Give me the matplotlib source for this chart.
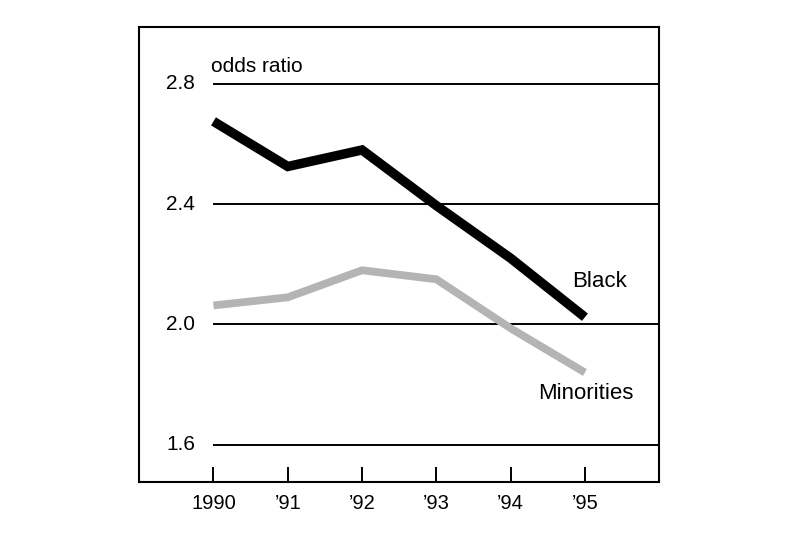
import matplotlib.pyplot as plt

# --- data ---
years = [1990, 1991, 1992, 1993, 1994, 1995]
year_labels = ['1990', '\u201991', '\u201992', '\u201993', '\u201994', '\u201995']
black = [2.675, 2.525, 2.58, 2.395, 2.22, 2.024]
minorities = [2.063, 2.09, 2.18, 2.15, 1.987, 1.84]
grid_values = [1.6, 2.0, 2.4, 2.8]
grid_labels = ['1.6', '2.0', '2.4', '2.8']

plt.rcParams['font.family'] = ['Liberation Sans', 'DejaVu Sans']

fig = plt.figure(figsize=(8, 5.36), dpi=100)
ax = fig.add_axes([0.174, 0.1013, 0.65, 0.849])

# gridlines start at the first year and run to the right edge
ax.hlines(grid_values, 1990, 1996, colors='black', linewidth=1.4, zorder=1)

ax.plot(years, minorities, color='#b4b4b4', linewidth=5.6,
        solid_capstyle='butt', solid_joinstyle='miter', zorder=2)
ax.plot(years, black, color='black', linewidth=6.8,
        solid_capstyle='butt', solid_joinstyle='miter', zorder=3)

ax.set_xlim(1989, 1996)
ax.set_ylim(1.477, 2.99)

# y labels sit inside the frame
for v, lab in zip(grid_values, grid_labels):
    ax.text(1989.75, v, lab, ha='right', va='center', fontsize=15)
ax.set_yticks([])

ax.set_xticks(years)
ax.set_xticklabels(year_labels, fontsize=14.5)
ax.tick_params(axis='x', direction='in', length=11, width=1.4, pad=9)

for s in ax.spines.values():
    s.set_linewidth(1.5)

ax.text(1989.97, 2.858, 'odds ratio', ha='left', va='center', fontsize=15)
ax.text(1994.83, 2.143, 'Black', ha='left', va='center', fontsize=16)
ax.text(1994.37, 1.77, 'Minorities', ha='left', va='center', fontsize=16)

plt.savefig('out.png', dpi=100)
